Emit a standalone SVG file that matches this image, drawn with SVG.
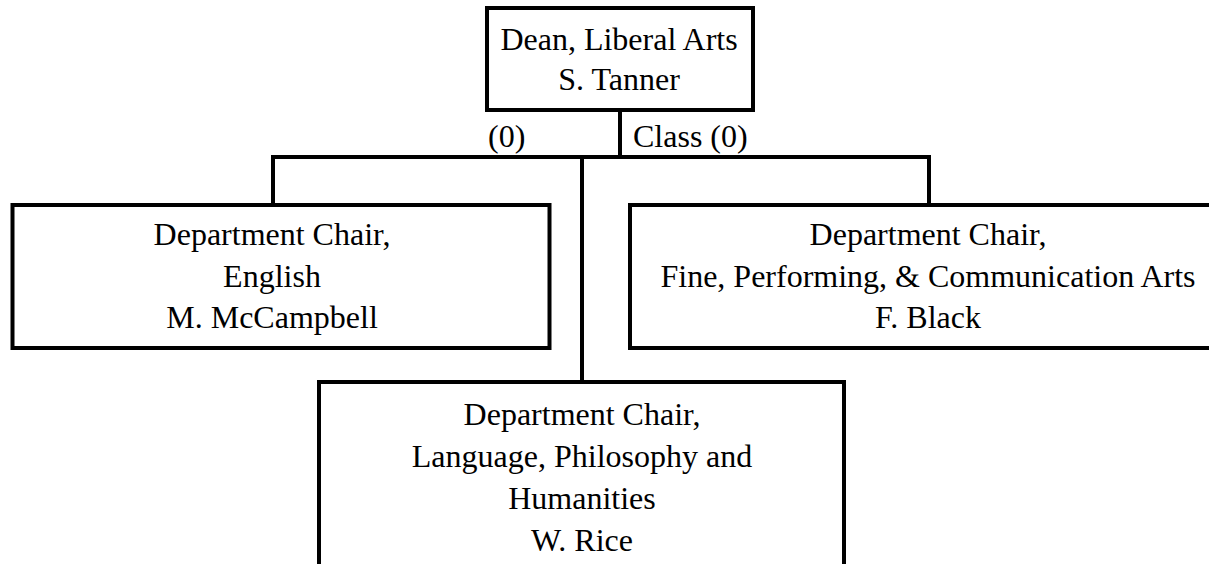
<svg xmlns="http://www.w3.org/2000/svg" width="1209" height="564" viewBox="0 0 1209 564">
<style>
.box{fill:#fff;stroke:#000;stroke-width:4}
.ln{fill:none;stroke:#000;stroke-width:4}
text{font-family:"Liberation Serif","Times New Roman",serif;font-size:32px;fill:#000}
.c{text-anchor:middle}
</style>
<rect width="1209" height="564" fill="#fff"/>
<g id="connectors">
<path class="ln" d="M620 110V157M271 157H931M273 157V205M929 157V205M582 157V382"/>
<text x="488" y="147">(0)</text>
<text x="633" y="147">Class (0)</text>
</g>
<g id="dean">
<rect class="box" x="487" y="8" width="266" height="102"/>
<text class="c" x="619" y="50">Dean, Liberal Arts</text>
<text class="c" x="619" y="90">S. Tanner</text>
</g>
<g id="english">
<rect class="box" x="12.5" y="205" width="537" height="143"/>
<text class="c" x="272" y="245">Department Chair,</text>
<text class="c" x="272" y="287">English</text>
<text class="c" x="272" y="328">M. McCampbell</text>
</g>
<g id="fpca">
<rect class="box" x="630" y="205" width="600" height="143"/>
<text class="c" x="928" y="245">Department Chair,</text>
<text class="c" x="928" y="287">Fine, Performing, &amp; Communication Arts</text>
<text class="c" x="928" y="328">F. Black</text>
</g>
<g id="lph">
<rect class="box" x="319" y="382" width="525" height="200"/>
<text class="c" x="582" y="425">Department Chair,</text>
<text class="c" x="582" y="467">Language, Philosophy and</text>
<text class="c" x="582" y="509">Humanities</text>
<text class="c" x="582" y="551">W. Rice</text>
</g>
</svg>
